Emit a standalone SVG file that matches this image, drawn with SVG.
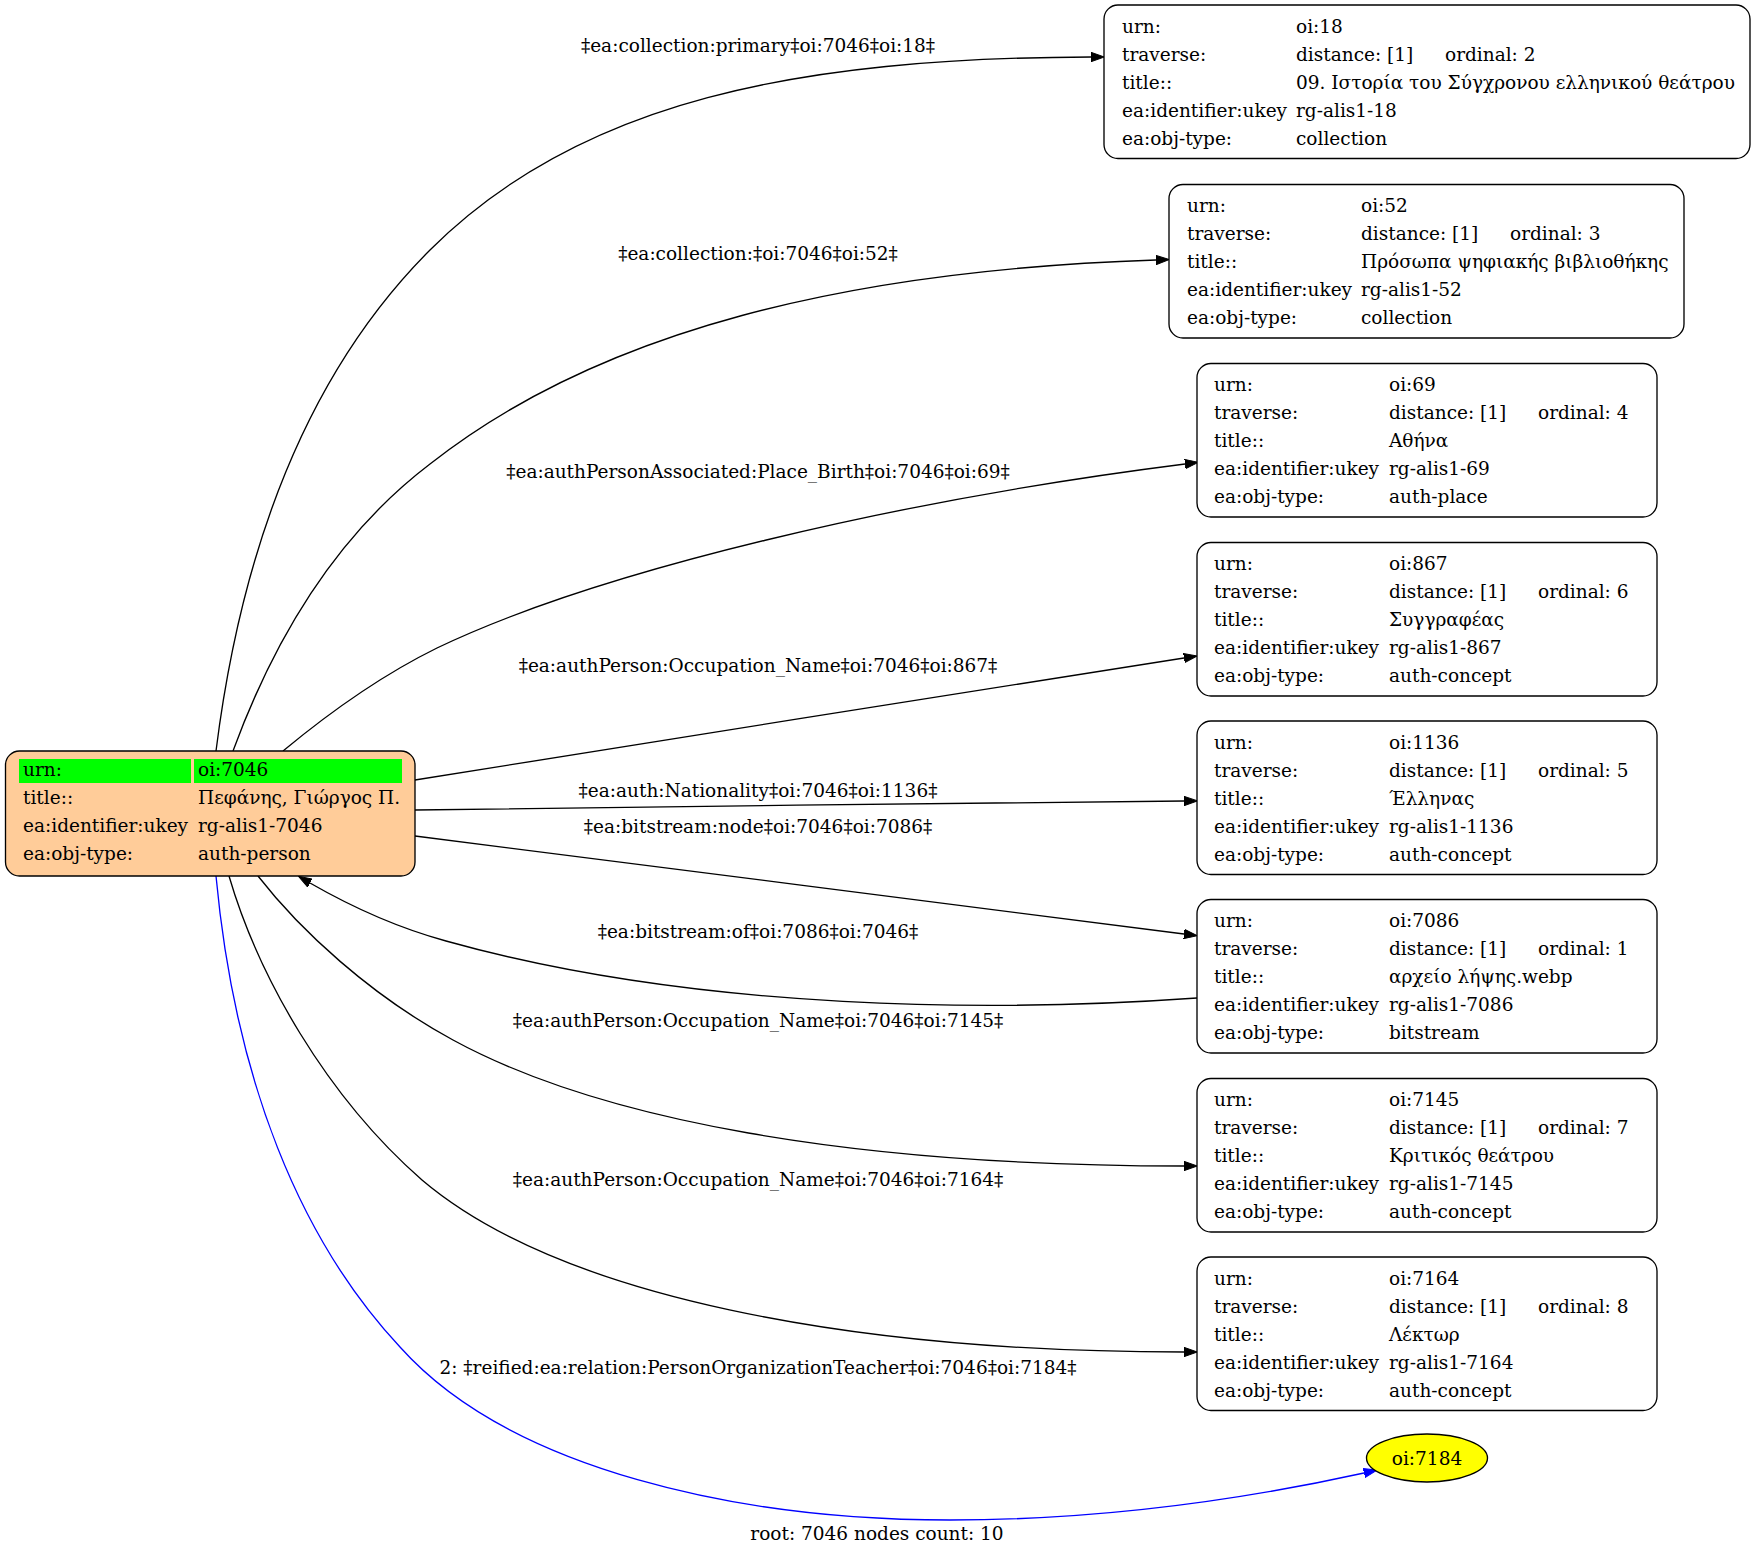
<svg xmlns="http://www.w3.org/2000/svg" width="1756" height="1557" viewBox="0 0 1756 1557">
<style>
text{font-family:"DejaVu Serif","Liberation Serif",serif;font-size:18.5px;fill:#000}
.lbl{text-anchor:middle}
.box{fill:#fff;stroke:#000;stroke-width:1.33}
.edge{fill:none;stroke:#000;stroke-width:1.33}
.blue{fill:none;stroke:#0000ff;stroke-width:1.33}
</style>
<defs>
<marker id="ah" markerUnits="userSpaceOnUse" markerWidth="14" markerHeight="10" refX="0" refY="4.67" orient="auto" viewBox="0 0 14 9.34">
<path d="M0,0 L13.3,4.67 L0,9.34 z" fill="#000" stroke="#000" stroke-width="1"/>
</marker>
<marker id="ahb" markerUnits="userSpaceOnUse" markerWidth="14" markerHeight="10" refX="0" refY="4.67" orient="auto" viewBox="0 0 14 9.34">
<path d="M0,0 L13.3,4.67 L0,9.34 z" fill="#0000ff" stroke="#0000ff" stroke-width="1"/>
</marker>
</defs>
<rect width="1756" height="1557" fill="#fff"/>

<g id="connectors">
<path class="edge" marker-end="url(#ah)" d="M216,751 C240,560 300,380 430,250 C580,100 800,58 1091,57"/>
<text class="lbl" x="758" y="52">‡ea:collection:primary‡oi:7046‡oi:18‡</text>
<path class="edge" marker-end="url(#ah)" d="M233,751 C270,650 330,540 430,464 C600,330 850,270 1156,260"/>
<text class="lbl" x="758" y="260">‡ea:collection:‡oi:7046‡oi:52‡</text>
<path class="edge" marker-end="url(#ah)" d="M283,751 C330,712 380,676 437,648 C600,570 900,500 1185,464"/>
<text class="lbl" x="758" y="478">‡ea:authPersonAssociated:Place_Birth‡oi:7046‡oi:69‡</text>
<path class="edge" marker-end="url(#ah)" d="M415,780 C650,742 950,695 1184,658"/>
<text class="lbl" x="758" y="672">‡ea:authPerson:Occupation_Name‡oi:7046‡oi:867‡</text>
<path class="edge" marker-end="url(#ah)" d="M415,810 C650,807 950,803 1184,801"/>
<text class="lbl" x="758" y="797">‡ea:auth:Nationality‡oi:7046‡oi:1136‡</text>
<path class="edge" marker-end="url(#ah)" d="M415,836 C650,866 950,904 1184,934"/>
<text class="lbl" x="758" y="833">‡ea:bitstream:node‡oi:7046‡oi:7086‡</text>
<path class="edge" marker-end="url(#ah)" d="M1197,998 C1000,1012 700,1012 446,941 C395,927 350,906 310,883"/>
<text class="lbl" x="758" y="938">‡ea:bitstream:of‡oi:7086‡oi:7046‡</text>
<path class="edge" marker-end="url(#ah)" d="M258,876 C300,930 370,995 453,1040 C600,1120 850,1166 1184,1166"/>
<text class="lbl" x="758" y="1027">‡ea:authPerson:Occupation_Name‡oi:7046‡oi:7145‡</text>
<path class="edge" marker-end="url(#ah)" d="M229,876 C258,975 325,1095 422,1180 C560,1297 850,1352 1184,1352"/>
<text class="lbl" x="758" y="1186">‡ea:authPerson:Occupation_Name‡oi:7046‡oi:7164‡</text>
<path class="blue" marker-end="url(#ahb)" d="M216,876 C235,1080 300,1240 400,1347 C510,1470 740,1520 950,1520 C1110,1520 1255,1497 1364,1473"/>
<text class="lbl" x="758" y="1374">2: ‡reified:ea:relation:PersonOrganizationTeacher‡oi:7046‡oi:7184‡</text>
</g>

<g id="node-7046">
<rect x="5.5" y="751" width="409.5" height="125" rx="14" fill="#ffcc99" stroke="#000" stroke-width="1.33"/>
<rect x="19" y="759" width="172" height="24" fill="#00ff00"/>
<rect x="194" y="759" width="208" height="24" fill="#00ff00"/>
<text x="23" y="776">urn:</text><text x="198" y="776">oi:7046</text>
<text x="23" y="804">title::</text><text x="198" y="804">Πεφάνης, Γιώργος Π.</text>
<text x="23" y="832">ea:identifier:ukey</text><text x="198" y="832">rg-alis1-7046</text>
<text x="23" y="860">ea:obj-type:</text><text x="198" y="860">auth-person</text>
</g>

<g id="node-18" transform="translate(1104,5)">
<rect class="box" x="0" y="0" width="646" height="153.5" rx="14"/>
<text x="18" y="27.5">urn:</text><text x="192" y="27.5">oi:18</text>
<text x="18" y="55.5">traverse:</text><text x="192" y="55.5">distance: [1]</text><text x="341" y="55.5">ordinal: 2</text>
<text x="18" y="83.5">title::</text><text x="192" y="83.5">09. Ιστορία του Σύγχρονου ελληνικού θεάτρου</text>
<text x="18" y="111.5">ea:identifier:ukey</text><text x="192" y="111.5">rg-alis1-18</text>
<text x="18" y="139.5">ea:obj-type:</text><text x="192" y="139.5">collection</text>
</g>

<g id="node-52" transform="translate(1169,184.5)">
<rect class="box" x="0" y="0" width="515" height="153.5" rx="14"/>
<text x="18" y="27.5">urn:</text><text x="192" y="27.5">oi:52</text>
<text x="18" y="55.5">traverse:</text><text x="192" y="55.5">distance: [1]</text><text x="341" y="55.5">ordinal: 3</text>
<text x="18" y="83.5">title::</text><text x="192" y="83.5">Πρόσωπα ψηφιακής βιβλιοθήκης</text>
<text x="18" y="111.5">ea:identifier:ukey</text><text x="192" y="111.5">rg-alis1-52</text>
<text x="18" y="139.5">ea:obj-type:</text><text x="192" y="139.5">collection</text>
</g>

<g id="node-69" transform="translate(1197,363.5)">
<rect class="box" x="0" y="0" width="460" height="153.5" rx="14"/>
<text x="17" y="27.5">urn:</text><text x="192" y="27.5">oi:69</text>
<text x="17" y="55.5">traverse:</text><text x="192" y="55.5">distance: [1]</text><text x="341" y="55.5">ordinal: 4</text>
<text x="17" y="83.5">title::</text><text x="192" y="83.5">Αθήνα</text>
<text x="17" y="111.5">ea:identifier:ukey</text><text x="192" y="111.5">rg-alis1-69</text>
<text x="17" y="139.5">ea:obj-type:</text><text x="192" y="139.5">auth-place</text>
</g>

<g id="node-867" transform="translate(1197,542.5)">
<rect class="box" x="0" y="0" width="460" height="153.5" rx="14"/>
<text x="17" y="27.5">urn:</text><text x="192" y="27.5">oi:867</text>
<text x="17" y="55.5">traverse:</text><text x="192" y="55.5">distance: [1]</text><text x="341" y="55.5">ordinal: 6</text>
<text x="17" y="83.5">title::</text><text x="192" y="83.5">Συγγραφέας</text>
<text x="17" y="111.5">ea:identifier:ukey</text><text x="192" y="111.5">rg-alis1-867</text>
<text x="17" y="139.5">ea:obj-type:</text><text x="192" y="139.5">auth-concept</text>
</g>

<g id="node-1136" transform="translate(1197,721)">
<rect class="box" x="0" y="0" width="460" height="153.5" rx="14"/>
<text x="17" y="27.5">urn:</text><text x="192" y="27.5">oi:1136</text>
<text x="17" y="55.5">traverse:</text><text x="192" y="55.5">distance: [1]</text><text x="341" y="55.5">ordinal: 5</text>
<text x="17" y="83.5">title::</text><text x="192" y="83.5">Έλληνας</text>
<text x="17" y="111.5">ea:identifier:ukey</text><text x="192" y="111.5">rg-alis1-1136</text>
<text x="17" y="139.5">ea:obj-type:</text><text x="192" y="139.5">auth-concept</text>
</g>

<g id="node-7086" transform="translate(1197,899.5)">
<rect class="box" x="0" y="0" width="460" height="153.5" rx="14"/>
<text x="17" y="27.5">urn:</text><text x="192" y="27.5">oi:7086</text>
<text x="17" y="55.5">traverse:</text><text x="192" y="55.5">distance: [1]</text><text x="341" y="55.5">ordinal: 1</text>
<text x="17" y="83.5">title::</text><text x="192" y="83.5">αρχείο λήψης.webp</text>
<text x="17" y="111.5">ea:identifier:ukey</text><text x="192" y="111.5">rg-alis1-7086</text>
<text x="17" y="139.5">ea:obj-type:</text><text x="192" y="139.5">bitstream</text>
</g>

<g id="node-7145" transform="translate(1197,1078.5)">
<rect class="box" x="0" y="0" width="460" height="153.5" rx="14"/>
<text x="17" y="27.5">urn:</text><text x="192" y="27.5">oi:7145</text>
<text x="17" y="55.5">traverse:</text><text x="192" y="55.5">distance: [1]</text><text x="341" y="55.5">ordinal: 7</text>
<text x="17" y="83.5">title::</text><text x="192" y="83.5">Κριτικός θεάτρου</text>
<text x="17" y="111.5">ea:identifier:ukey</text><text x="192" y="111.5">rg-alis1-7145</text>
<text x="17" y="139.5">ea:obj-type:</text><text x="192" y="139.5">auth-concept</text>
</g>

<g id="node-7164" transform="translate(1197,1257)">
<rect class="box" x="0" y="0" width="460" height="153.5" rx="14"/>
<text x="17" y="27.5">urn:</text><text x="192" y="27.5">oi:7164</text>
<text x="17" y="55.5">traverse:</text><text x="192" y="55.5">distance: [1]</text><text x="341" y="55.5">ordinal: 8</text>
<text x="17" y="83.5">title::</text><text x="192" y="83.5">Λέκτωρ</text>
<text x="17" y="111.5">ea:identifier:ukey</text><text x="192" y="111.5">rg-alis1-7164</text>
<text x="17" y="139.5">ea:obj-type:</text><text x="192" y="139.5">auth-concept</text>
</g>

<g id="node-7184">
<ellipse cx="1427" cy="1458" rx="60.5" ry="24" fill="#ffff00" stroke="#000" stroke-width="1.33"/>
<text class="lbl" x="1427" y="1464.5">oi:7184</text>
</g>

<text class="lbl" x="877" y="1540">root: 7046 nodes count: 10</text>
</svg>
